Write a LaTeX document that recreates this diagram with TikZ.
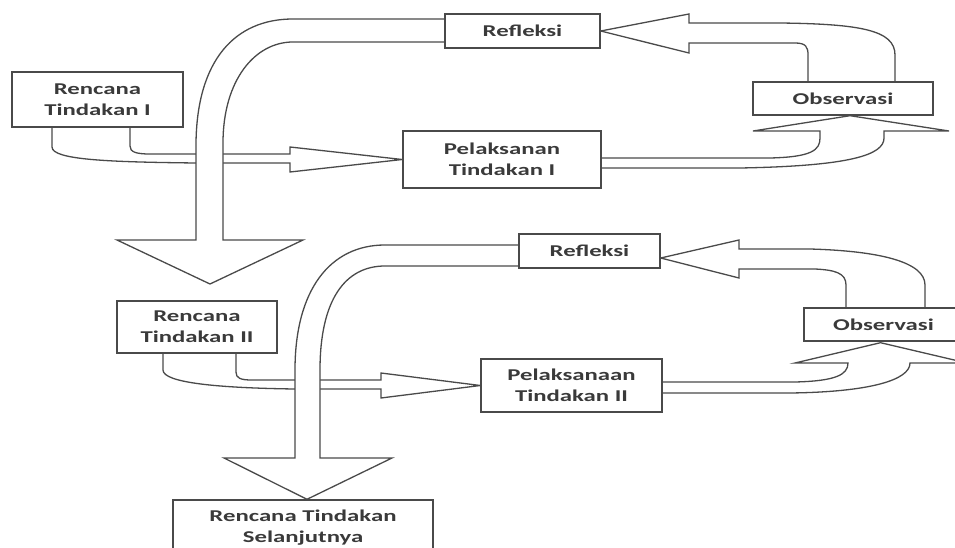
\documentclass[tikz,border=0pt]{standalone}
\usepackage{fontspec}
\newfontfamily\diagfont[FakeStretch=1.5]{Carlito}
\usetikzlibrary{calc}
\definecolor{ink}{HTML}{4A4A4A}
\definecolor{txt}{HTML}{3A3A3A}
\pgfdeclarelayer{bg}
\pgfdeclarelayer{arrows}
\pgfsetlayers{bg,arrows,main}
\begin{document}
\begin{tikzpicture}[x=1pt,y=-1pt,
  box/.style={draw=ink, line width=1.4pt, fill=white, inner sep=0pt, text=txt,
    align=center, font=\diagfont\bfseries\fontsize{16.5}{21}\selectfont},
  blk/.style={draw=ink, line width=1.3pt, fill=white, line join=miter}]
\useasboundingbox (0,0) rectangle (955,548);
\begin{pgfonlayer}{bg}
  \fill[white] (0,0) rectangle (955,548);
\end{pgfonlayer}
\clip (0,0) rectangle (955,548);
% boxes
\node[box, minimum width=171, minimum height=55] (ren1) at (97.5,99.5) {Rencana\\Tindakan I};
\node[box, minimum width=198, minimum height=57] (pel1) at (502,159.5) {Pelaksanan\\Tindakan I};
\node[box, minimum width=155, minimum height=34] (ref1) at (522.5,31) {Refleksi};
\node[box, minimum width=180, minimum height=33] (obs1) at (843,98.5) {Observasi};
\node[box, minimum width=160, minimum height=52] (ren2) at (197,327) {Rencana\\Tindakan II};
\node[box, minimum width=181, minimum height=53] (pel2) at (571.5,385.5) {Pelaksanaan\\Tindakan II};
\node[box, minimum width=141, minimum height=34] (ref2) at (589.5,251) {Refleksi};
\node[box, minimum width=159, minimum height=33] (obs2) at (883.5,324.5) {Observasi};
\node[box, minimum width=260, minimum height=56] (sel) at (303,528) {Rencana Tindakan\\Selanjutnya};
\begin{pgfonlayer}{arrows}
% cycle I
\draw[blk] (130,127) -- (130,146) .. controls (130,152) and (136,154) .. (150,154) -- (290,154) -- (290,147)
  -- (pel1.west) -- (290,172) -- (290,163) -- (196,163) .. controls (110,162) and (52,160) .. (52,147) -- (52,127);
\draw[blk] (445,19) -- (293,19) .. controls (235,19) and (197,60) .. (196,143) -- (196,240) -- (117,240)
  -- (210,284) -- (303,240) -- (223,240) -- (223,143) .. controls (223,80) and (255,42) .. (293,42) -- (445,42);
\draw[blk] (808,82) -- (808,55) .. controls (808,47) and (806,43) .. (795,43) -- (689,43) -- (689,53)
  -- (ref1.east) -- (689,14) -- (689,23) -- (780,23) .. controls (860,24) and (895,30) .. (895,55) -- (895,82);
\draw[blk] (601,158) -- (770,158) .. controls (812,157) and (820,150) .. (820,138) -- (820,131) -- (753,131)
  -- ($(obs1.south)+(7,0)$) -- (949,131) -- (884,131) -- (884,138) .. controls (884,155) and (850,166) .. (740,168) -- (601,168);
% cycle II
\draw[blk] (236,353) -- (236,372) .. controls (236,378) and (240,380) .. (252,380) -- (381,380) -- (381,373)
  -- (pel2.west) -- (381,398) -- (381,389) -- (295,389) .. controls (220,388) and (163,383) .. (163,370) -- (163,353);
\draw[blk] (519,245) -- (385,245) .. controls (330,245) and (295,290) .. (295,370) -- (295,458) -- (224,458)
  -- ($(sel.north)+(4,0)$) -- (392,458) -- (320,458) -- (320,370) .. controls (320,300) and (345,266) .. (385,266) -- (519,266);
\draw[blk] (846,308) -- (846,285) .. controls (846,273) and (835,270) .. (815,269) -- (739,269) -- (739,278)
  -- ($(ref2.east)+(0,7)$) -- (739,240) -- (739,249) -- (810,249) .. controls (880,251) and (925,262) .. (925,285) -- (925,308);
\draw[blk] (662,382) -- (795,382) .. controls (835,381) and (848,375) .. (848,363) -- (795,363)
  -- ($(obs2.south)+(-3,1)$) -- (967,363) -- (910,363) .. controls (910,380) and (870,392) .. (790,393) -- (662,393);
\end{pgfonlayer}
\end{tikzpicture}
\end{document}
